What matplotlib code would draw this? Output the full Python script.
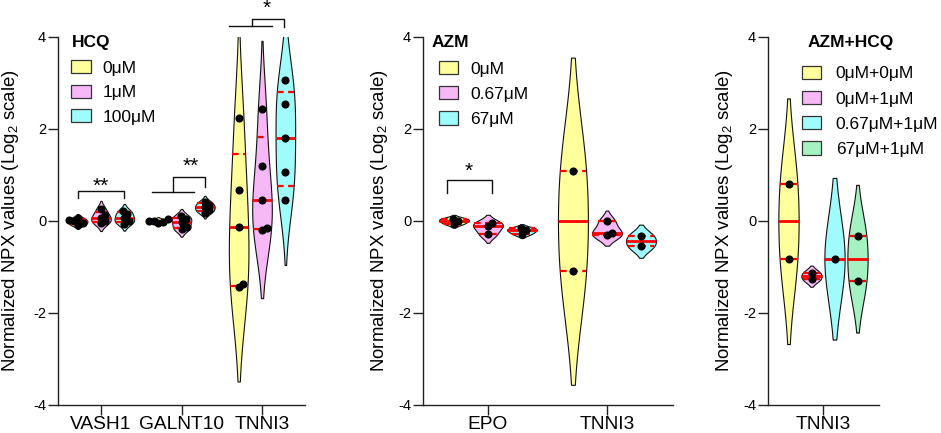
import numpy as np
import matplotlib
matplotlib.use('Agg')
import matplotlib.pyplot as plt
from matplotlib.patches import Patch

plt.rcParams['font.family'] = ['Liberation Sans', 'DejaVu Sans']
plt.rcParams['mathtext.fontset'] = 'custom'
plt.rcParams['mathtext.rm'] = 'Liberation Sans'
plt.rcParams['mathtext.it'] = 'Liberation Sans:italic'
plt.rcParams['mathtext.bf'] = 'Liberation Sans:bold'

# ---------------- data ----------------
hcq_genes = ['VASH1', 'GALNT10', 'TNNI3']
hcq_labels = ['0μM', '1μM', '100μM']
hcq_vash1_0 = [-0.09, -0.05, -0.01, 0.02, 0.07]
hcq_vash1_1 = [-0.05, 0.00, 0.07, 0.14, 0.27]
hcq_vash1_100 = [-0.06, 0.00, 0.06, 0.15, 0.22]
hcq_galnt10_0 = [-0.05, -0.02, 0.00, 0.01, 0.04]
hcq_galnt10_1 = [-0.18, -0.14, -0.02, 0.05, 0.10]
hcq_galnt10_100 = [0.18, 0.24, 0.30, 0.35, 0.42]
hcq_tnni3_0 = [-1.43, -1.38, -0.13, 0.67, 2.24]
hcq_tnni3_1 = [-0.20, -0.15, 0.46, 1.20, 2.44]
hcq_tnni3_100 = [0.46, 1.07, 1.80, 2.54, 3.06]

azm_genes = ['EPO', 'TNNI3']
azm_labels = ['0μM', '0.67μM', '67μM']
azm_epo_0 = [-0.06, 0.01, 0.05]
azm_epo_067 = [-0.29, -0.11, -0.05]
azm_epo_67 = [-0.28, -0.20, -0.16]
azm_tnni3_0 = [-1.09, 1.08]
azm_tnni3_067 = [-0.30, -0.27, -0.01]
azm_tnni3_67 = [-0.55, -0.33]

combo_genes = ['TNNI3']
combo_labels = ['0μM+0μM', '0μM+1μM', '0.67μM+1μM', '67μM+1μM']
combo_tnni3_0_0 = [-0.82, 0.81]
combo_tnni3_0_1 = [-1.27, -1.13]
combo_tnni3_067_1 = [-0.82]
combo_tnni3_67_1 = [-1.31, -0.33]

yticks = [-4, -2, 0, 2, 4]
ylabel = r'Normalized NPX values (Log$_2$ scale)'

# ---------------- style ----------------
YEL = '#FFFF9C'
PNK = '#F6B8F6'
CYN = '#A0FCFC'
GRN = '#A4F2C2'
W, H = 941, 433

fig = plt.figure(figsize=(W / 100, H / 100), dpi=100)


def px_axes(left, right, top, bottom):
    return fig.add_axes([left / W, (H - bottom) / H, (right - left) / W, (bottom - top) / H])


def style_axes(ax, xlim, names, label_x):
    ax.set_xlim(*xlim)
    ax.set_ylim(-4, 4)
    ax.set_yticks(yticks)
    ax.set_yticklabels([str(t) for t in yticks])
    ax.set_xticks(range(len(names)))
    ax.set_xticklabels(names)
    for s in ('top', 'right'):
        ax.spines[s].set_visible(False)
    for s in ('left', 'bottom'):
        ax.spines[s].set_color('#222222')
        ax.spines[s].set_linewidth(1.0)
    ax.tick_params(axis='y', direction='out', length=7, width=1, labelsize=10.5, pad=1.5, color='#222222')
    ax.tick_params(axis='x', direction='out', length=7, width=1, labelsize=13.8, pad=1.0, color='#222222')
    ax.set_ylabel(ylabel, fontsize=13.4)
    ax.yaxis.set_label_coords(label_x, 0.5)


def violin(ax, xc, vals, color, half_w, bw=None, cut=1.85):
    v = np.asarray(vals, float)
    n = len(v)
    if bw is None:
        bw = v.std(ddof=1) * n ** (-0.2)
    y = np.linspace(v.min() - cut * bw, v.max() + cut * bw, 400)
    dens = np.exp(-0.5 * ((y[:, None] - v[None, :]) / bw) ** 2).sum(axis=1)
    w = dens / dens.max() * half_w
    ax.fill_betweenx(y, xc - w, xc + w, facecolor=color, edgecolor='#111111',
                     linewidth=0.8, zorder=2)
    q1, med, q3 = np.percentile(v, [25, 50, 75], method='weibull')
    wm = np.interp(med, y, w)
    ax.hlines(med, xc - wm, xc + wm, colors='#FF0000', linewidth=2.0, zorder=3)
    for q in (q1, q3):
        if abs(q - med) > 1e-9:
            wq = np.interp(q, y, w)
            ax.hlines(q, xc - wq, xc + wq, colors='#FF0000', linewidth=1.6,
                      linestyles=(0, (3, 2)), zorder=3)


def swarm(ax, xc, vals, d_px=8.0, thr=0.62):
    v = np.asarray(vals, float)
    pts = ax.transData.transform(np.column_stack([np.full(len(v), xc), v]))
    cands = sorted(np.arange(-30, 30.5, 0.5), key=lambda a: (abs(a), -a))
    placed = []
    out = np.zeros(len(v))
    for i in np.argsort(v):
        x0, y0 = pts[i]
        chosen = 0.0
        for dx in cands:
            if all(np.hypot(x0 + dx - px, y0 - py) >= thr * d_px for px, py in placed):
                chosen = dx
                break
        placed.append((x0 + chosen, y0))
        out[i] = x0 + chosen
    xs = ax.transData.inverted().transform(np.column_stack([out, pts[:, 1]]))[:, 0]
    ax.scatter(xs, v, s=34, color='black', zorder=4, linewidths=0, clip_on=False)


def legend(ax, title, labels, colors, title_xy, anchor, textpad, spacing):
    handles = [Patch(facecolor=c, edgecolor='#333333', linewidth=0.9) for c in colors]
    ax.legend(handles, labels, loc='upper left', bbox_to_anchor=anchor, frameon=False,
              fontsize=12.5, handlelength=1.12, handleheight=0.8, handletextpad=textpad,
              labelspacing=spacing, borderpad=0, borderaxespad=0)
    ax.text(title_xy[0], title_xy[1], title, transform=ax.transAxes, fontsize=12.5,
            fontweight='bold', ha='left', va='center')


def bracket(ax, x1, x2, y, y1, y2):
    ax.plot([x1, x1, x2, x2], [y1, y, y, y2], color='#111111', lw=1.0, clip_on=False)


def star(ax, x, y, s):
    ax.text(x, y, s, ha='center', va='center', fontsize=15, clip_on=False)


# ---------------- panel 1: HCQ ----------------
ax1 = px_axes(58, 305, 37, 405)
style_axes(ax1, (-0.534, 2.534), hcq_genes, -0.148)
off1 = 0.29
hw1 = 0.42 * off1
hcq_data = [[hcq_vash1_0, hcq_vash1_1, hcq_vash1_100],
            [hcq_galnt10_0, hcq_galnt10_1, hcq_galnt10_100],
            [hcq_tnni3_0, hcq_tnni3_1, hcq_tnni3_100]]
hcq_cols = [YEL, PNK, CYN]
for gi, grp in enumerate(hcq_data):
    for k, vals in enumerate(grp):
        xc = gi + (k - 1) * off1
        violin(ax1, xc, vals, hcq_cols[k], hw1)
        swarm(ax1, xc, vals)
legend(ax1, 'HCQ', hcq_labels, hcq_cols, (0.057, 0.984), (0.053, 0.937), 0.70, 0.50)
# significance
bracket(ax1, -off1, off1, 0.65, 0.50, 0.50)
star(ax1, 0.0, 0.75, '**')
ax1.plot([1 - 0.37, 1 + 0.16], [0.63, 0.63], color='#111111', lw=1.0)
bracket(ax1, 1 - 0.11, 1 + off1, 0.96, 0.63, 0.74)
star(ax1, 1.11, 1.18, '**')
ax1.plot([2 - 0.41, 2 + 0.124], [4.24, 4.24], color='#111111', lw=1.0, clip_on=False)
bracket(ax1, 2 - 0.124, 2 + off1 - 0.02, 4.39, 4.24, 4.22)
star(ax1, 2.06, 4.62, '*')

# ---------------- panel 2: AZM ----------------
ax2 = px_axes(423, 673, 37, 405)
style_axes(ax2, (-0.546, 1.555), azm_genes, -0.134)
off2 = 0.286
hw2 = 0.44 * off2
azm_data = [[azm_epo_0, azm_epo_067, azm_epo_67],
            [azm_tnni3_0, azm_tnni3_067, azm_tnni3_67]]
azm_cols = [YEL, PNK, CYN]
for gi, grp in enumerate(azm_data):
    for k, vals in enumerate(grp):
        xc = gi + (k - 1) * off2
        violin(ax2, xc, vals, azm_cols[k], hw2)
        swarm(ax2, xc, vals)
legend(ax2, 'AZM', azm_labels, azm_cols, (0.036, 0.984), (0.064, 0.935), 0.70, 0.55)
bracket(ax2, -0.345, 0.034, 0.89, 0.61, 0.61)
star(ax2, -0.16, 1.07, '*')

# ---------------- panel 3: AZM+HCQ ----------------
ax3 = px_axes(768, 879, 37, 405)
style_axes(ax3, (-0.6875, 0.70), combo_genes, -0.30)
off3 = 0.2875
hw3 = 0.44 * off3
combo_data = [combo_tnni3_0_0, combo_tnni3_0_1, combo_tnni3_067_1, combo_tnni3_67_1]
combo_cols = [YEL, PNK, CYN, GRN]
for k, vals in enumerate(combo_data):
    xc = (k - 1.5) * off3
    bw = 0.95 if len(vals) < 2 else None
    violin(ax3, xc, vals, combo_cols[k], hw3, bw=bw)
    swarm(ax3, xc, vals)
legend(ax3, 'AZM+HCQ', combo_labels, combo_cols, (0.36, 0.984), (0.306, 0.922), 0.82, 0.55)

fig.savefig('out.png', dpi=100)
